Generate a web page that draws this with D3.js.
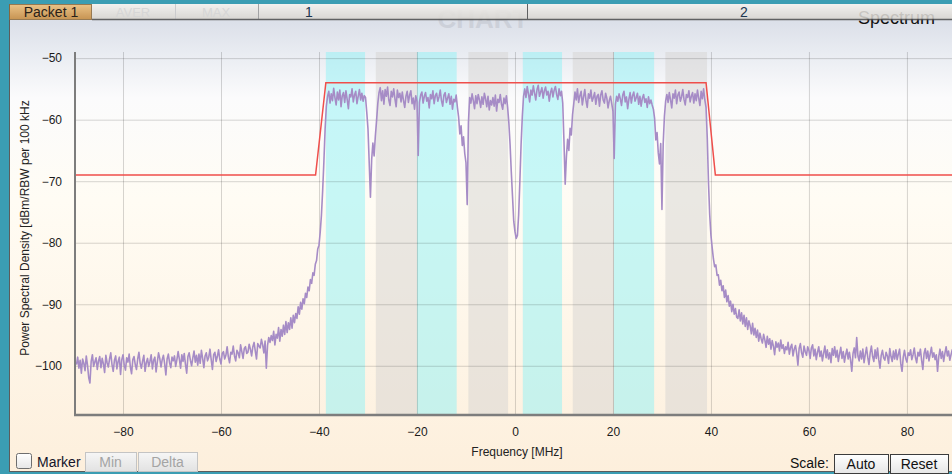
<!DOCTYPE html>
<html>
<head>
<meta charset="utf-8">
<script src="https://cdn.jsdelivr.net/npm/d3@7"></script>
<style>
  html, body { margin: 0; padding: 0; background: #3b9db3; }
  svg { display: block; font-family: "Liberation Sans", Arial, sans-serif; }
</style>
</head>
<body>
<div id="chart"></div>
<script>
const width = 952;
const height = 474;
const margin = { top: 52, right: 0, bottom: 59, left: 75 };

// spectrum trace, one sample every 0.25 MHz starting at -89.5 MHz
const freqStart = -89.5;
const freqStep = 0.25;
const psd = [
  -99.8,-98.6,-100.4,-99.1,-101.2,-98.9,-99.6,-100.8,-98.4,-99.9,-101.9,-102.8,-99.3,-98.2,-100.1,-99.4,-98.7,-100.6,-99.2,-98.5,
  -100.3,-98.8,-99.7,-101.1,-98.3,-99.5,-100.2,-98.9,-97.9,-99.8,-100.9,-99.1,-98.4,-100.5,-99.3,-98.6,-101.4,-99.0,-98.2,-99.9,
  -100.7,-98.7,-99.4,-98.1,-100.2,-101.3,-99.0,-98.5,-99.8,-100.6,-98.9,-97.8,-99.6,-100.4,-99.2,-98.3,-100.9,-99.5,-98.8,-100.1,
  -99.3,-98.2,-100.5,-99.1,-98.6,-101.0,-99.4,-97.9,-98.8,-100.2,-99.0,-98.3,-99.7,-101.5,-98.9,-98.1,-99.5,-100.3,-98.6,-99.2,
  -98.4,-100.1,-99.0,-97.7,-98.9,-100.4,-98.2,-99.3,-98.0,-99.8,-101.2,-98.5,-97.9,-99.1,-100.0,-98.7,-97.6,-99.4,-98.3,-99.9,
  -98.1,-99.6,-97.5,-98.8,-100.3,-98.4,-97.9,-99.2,-98.6,-97.3,-99.0,-100.6,-98.2,-97.8,-99.3,-98.5,-97.4,-98.9,-99.7,-98.0,
  -97.7,-98.9,-98.3,-96.9,-98.6,-99.5,-97.8,-98.1,-96.8,-98.4,-99.2,-97.5,-97.9,-98.7,-96.6,-97.7,-98.8,-97.2,-96.9,-98.0,
  -97.8,-96.5,-97.3,-98.4,-96.9,-96.2,-97.6,-98.9,-96.4,-96.8,-97.1,-95.7,-96.6,-97.9,-96.0,-100.4,-96.7,-95.4,-96.2,-95.1,
  -95.9,-94.4,-96.6,-94.9,-95.5,-93.8,-96.0,-94.1,-95.2,-93.4,-94.9,-92.8,-94.6,-93.0,-94.1,-92.2,-93.9,-91.8,-93.0,-91.5,
  -92.3,-90.4,-91.6,-89.7,-90.8,-89.1,-89.9,-88.2,-88.9,-87.2,-87.8,-86.0,-86.6,-84.9,-85.3,-83.5,-82.9,-81.0,-80.4,-78.3,
  -75.5,-71.5,-66.8,-61.5,-57.8,-56.2,-55.4,-57.3,-55.8,-56.9,-54.9,-56.4,-57.6,-55.5,-56.8,-55.2,-57.9,-56.1,-55.6,-57.2,
  -55.3,-56.7,-58.2,-55.9,-56.3,-55.0,-57.1,-56.0,-55.4,-57.4,-56.2,-55.1,-56.8,-55.7,-57.0,-56.1,-56.4,-58.8,-61.5,-67.0,
  -72.6,-66.5,-63.8,-65.9,-62.7,-60.2,-57.4,-55.6,-54.8,-56.9,-55.3,-57.5,-55.1,-56.2,-54.7,-56.8,-57.7,-55.4,-56.3,-55.0,
  -56.6,-57.9,-55.2,-56.4,-55.7,-57.1,-55.5,-56.9,-58.0,-56.2,-55.4,-57.2,-56.0,-55.3,-57.4,-56.5,-58.3,-56.1,-57.0,-65.8,
  -57.2,-56.0,-55.5,-57.3,-56.2,-55.6,-57.0,-56.4,-58.1,-55.9,-56.6,-55.3,-57.4,-56.1,-55.7,-57.0,-56.3,-55.2,-56.9,-57.8,
  -56.0,-55.6,-57.2,-56.5,-55.8,-57.5,-56.2,-58.3,-56.7,-57.1,-56.0,-58.0,-59.6,-62.3,-61.0,-64.2,-62.8,-65.5,-67.0,-73.8,
  -60.5,-56.4,-57.3,-55.8,-56.9,-58.2,-56.1,-57.4,-55.9,-56.8,-58.0,-56.3,-57.5,-55.7,-56.6,-57.9,-56.2,-58.4,-56.9,-57.6,
  -56.4,-57.8,-56.0,-58.6,-56.7,-57.2,-55.9,-57.5,-58.3,-56.5,-57.4,-56.1,-58.0,-60.5,-64.0,-68.5,-72.5,-76.5,-78.2,-79.3,
  -78.8,-75.5,-70.0,-64.0,-59.5,-56.2,-55.0,-56.4,-54.6,-55.8,-57.1,-55.2,-56.0,-54.5,-55.7,-56.8,-55.1,-54.4,-56.2,-55.5,
  -54.8,-56.5,-55.3,-54.7,-56.0,-55.4,-57.0,-55.6,-54.9,-56.3,-55.2,-54.6,-55.9,-56.7,-55.0,-56.1,-55.4,-57.3,-63.5,-70.5,
  -66.0,-63.2,-65.0,-61.4,-62.5,-59.2,-57.4,-55.5,-56.8,-55.0,-57.2,-56.1,-55.4,-57.6,-56.3,-55.1,-56.9,-58.0,-55.8,-56.5,
  -55.2,-57.0,-56.4,-55.6,-57.5,-56.2,-55.9,-57.8,-56.0,-55.3,-56.8,-57.3,-55.7,-56.5,-58.1,-56.9,-56.2,-57.4,-58.6,-66.3,
  -57.5,-56.2,-57.0,-55.8,-56.6,-57.7,-56.0,-55.4,-57.1,-56.3,-58.2,-56.7,-55.6,-57.3,-56.1,-55.5,-57.0,-56.4,-55.7,-57.5,
  -56.2,-57.8,-56.5,-55.9,-57.2,-56.6,-58.0,-56.3,-57.4,-56.8,-57.6,-58.3,-59.8,-63.3,-62.1,-65.4,-67.2,-63.9,-74.6,-64.0,
  -59.5,-57.0,-55.9,-57.2,-55.6,-56.8,-58.1,-55.8,-56.5,-55.2,-57.4,-56.0,-55.5,-57.0,-56.3,-55.1,-56.7,-57.6,-55.9,-56.4,
  -55.3,-57.1,-56.2,-55.6,-57.3,-55.8,-56.9,-55.2,-56.5,-57.7,-55.4,-56.6,-55.0,-56.8,-58.0,-63.0,-70.3,-75.5,-78.8,-80.8,
  -82.6,-83.9,-83.6,-85.3,-85.2,-86.9,-86.1,-87.8,-87.0,-88.9,-87.7,-89.6,-88.6,-90.3,-89.5,-91.2,-90.0,-91.6,-90.7,-92.1,
  -92.3,-90.9,-92.7,-91.4,-93.2,-91.8,-93.6,-92.2,-94.1,-92.7,-93.5,-94.8,-93.1,-95.0,-93.9,-95.4,-94.2,-96.0,-94.7,-95.6,
  -96.3,-94.9,-95.8,-97.0,-95.2,-96.5,-95.6,-97.3,-95.9,-96.8,-98.2,-96.1,-97.0,-96.3,-97.6,-95.8,-97.2,-96.6,-98.0,-96.9,
  -97.4,-96.2,-98.1,-97.0,-96.5,-98.4,-97.3,-96.7,-98.0,-99.9,-97.2,-96.4,-97.9,-98.6,-96.8,-97.7,-98.3,-96.9,-97.5,-98.8,
  -97.1,-96.6,-98.4,-97.3,-99.0,-97.8,-96.9,-98.5,-97.6,-99.2,-98.0,-96.8,-98.7,-97.4,-98.9,-97.9,-99.5,-97.2,-98.3,-96.9,
  -98.6,-97.5,-99.3,-98.1,-97.0,-98.8,-97.7,-99.4,-98.2,-97.3,-98.9,-97.8,-99.1,-100.9,-98.0,-97.1,-98.7,-95.4,-98.4,-99.2,
  -97.6,-98.9,-97.3,-99.5,-98.2,-97.0,-98.6,-99.8,-97.9,-96.8,-98.5,-99.3,-97.4,-98.8,-97.1,-99.0,-100.4,-98.3,-97.5,-98.7,
  -99.1,-97.8,-98.4,-99.6,-97.2,-98.5,-99.3,-97.6,-98.9,-97.4,-99.0,-98.1,-97.3,-99.7,-100.9,-98.6,-97.5,-98.8,-99.4,-97.9,
  -98.3,-97.4,-99.0,-98.2,-97.1,-98.7,-99.5,-97.8,-98.4,-97.3,-99.1,-100.6,-98.0,-97.2,-98.8,-97.6,-99.2,-98.1,-97.0,-98.6,
  -97.9,-99.0,-98.2,-100.9,-98.5,-97.3,-98.8,-97.7,-99.3,-98.0,-96.9,-98.4,-97.6,-99.1,-98.2,-97.4,-98.6
];

// spectral mask (red)
const maskFreq = [-89.8, -40.7, -38.6, 39.0, 40.9, 89.2];
const maskLevel = [-69, -69, -54, -54, -69, -69];

// shaded sub-channel bands
const bandLo = [-38.6, -28.4, -20.0, -9.5, 1.6, 11.8, 20.2, 30.7];
const bandHi = [-30.6, -20.0, -11.9, -1.4, 9.6, 20.2, 28.4, 39.2];
const bandKind = ["cyan", "grey", "cyan", "grey", "cyan", "grey", "cyan", "grey"];

const xTicks = [-80, -60, -40, -20, 0, 20, 40, 60, 80];
const yTicks = [-50, -60, -70, -80, -90, -100];

const svg = d3.select("#chart")
  .append("svg")
  .attr("width", width)
  .attr("height", height);

const defs = svg.append("defs");

function vGrad(id, stops) {
  const g = defs.append("linearGradient").attr("id", id)
    .attr("x1", 0).attr("y1", 0).attr("x2", 0).attr("y2", 1);
  stops.forEach(s => g.append("stop").attr("offset", s[0]).attr("stop-color", s[1]));
}
vGrad("panelBg", [[0, "#d4d9e4"], [0.1, "#e8ebf1"], [0.2, "#fbfbfc"], [0.42, "#fffcf4"], [1, "#fdefdc"]]);
vGrad("tabBar", [[0, "#f7f5f1"], [1, "#d7d4ce"]]);
vGrad("tabActive", [[0, "#efbf78"], [1, "#c4883a"]]);
vGrad("btnGrey", [[0, "#f6f6f6"], [1, "#e2e2e2"]]);
vGrad("btnWhite", [[0, "#ffffff"], [1, "#e6e6e6"]]);

const plotW = width - margin.left - margin.right;
const plotH = height - margin.top - margin.bottom;

defs.append("clipPath").attr("id", "plotClip")
  .append("rect")
  .attr("x", margin.left).attr("y", margin.top)
  .attr("width", plotW).attr("height", plotH);

// scales
const x = d3.scaleLinear()
  .domain([-89.8, 89.2])
  .range([margin.left, width - margin.right]);

const y = d3.scaleLinear()
  .domain([-108, -49])
  .range([height - margin.bottom, margin.top]);

// window frame
svg.append("rect")
  .attr("x", 0).attr("y", 0).attr("width", width).attr("height", height)
  .attr("fill", "#3b9db3");
svg.append("rect")
  .attr("x", 9).attr("y", 4).attr("width", width - 9).attr("height", 468)
  .attr("fill", "url(#panelBg)");
svg.append("line")
  .attr("x1", 9.5).attr("x2", 9.5).attr("y1", 4).attr("y2", 472)
  .attr("stroke", "#5c5c5c");
svg.append("line")
  .attr("x1", 9).attr("x2", width).attr("y1", 471.5).attr("y2", 471.5)
  .attr("stroke", "#5c5c5c");

// faint watermark and panel title, partly under the tab bar
svg.append("text")
  .attr("x", 483).attr("y", 28)
  .attr("text-anchor", "middle")
  .style("font-size", "26px")
  .style("font-weight", "bold")
  .attr("fill", "#ccd0d9")
  .text("CHART");

svg.append("text")
  .attr("x", 858).attr("y", 24)
  .style("font-size", "18px")
  .attr("fill", "#111")
  .text("Spectrum");

// tab bar
const bar = svg.append("g").attr("opacity", 0.86);
bar.append("rect")
  .attr("x", 9).attr("y", 4).attr("width", width - 9).attr("height", 16)
  .attr("fill", "url(#tabBar)");
bar.append("rect")
  .attr("x", 9.5).attr("y", 4.5).attr("width", 82).attr("height", 15)
  .attr("fill", "url(#tabActive)")
  .attr("stroke", "#8d6a3a");
[[175, "#c9c9c9"], [258, "#9a9a9a"], [527, "#4d4d4d"]].forEach(s => {
  bar.append("line")
    .attr("x1", s[0] + 0.5).attr("x2", s[0] + 0.5).attr("y1", 4).attr("y2", 20)
    .attr("stroke", s[1]);
});
bar.append("line")
  .attr("x1", 92).attr("x2", width).attr("y1", 19.5).attr("y2", 19.5)
  .attr("stroke", "#4d4d4d").attr("stroke-width", 1.5);

const tabText = [
  { t: "Packet 1", cx: 51, c: "#2a2118", s: 14 },
  { t: "AVER", cx: 133, c: "#d6d6d6", s: 13 },
  { t: "MAX", cx: 216, c: "#d6d6d6", s: 13 },
  { t: "1", cx: 309, c: "#1c3650", s: 14 },
  { t: "2", cx: 744, c: "#1c3650", s: 14 }
];
svg.append("g").selectAll("text")
  .data(tabText)
  .join("text")
  .attr("x", d => d.cx).attr("y", 17)
  .attr("text-anchor", "middle")
  .style("font-size", d => d.s + "px")
  .attr("fill", d => d.c)
  .text(d => d.t);

// shaded bands
svg.append("g")
  .selectAll("rect")
  .data(d3.range(bandLo.length))
  .join("rect")
  .attr("x", i => x(bandLo[i]))
  .attr("y", margin.top)
  .attr("width", i => x(bandHi[i]) - x(bandLo[i]))
  .attr("height", plotH)
  .attr("fill", i => bandKind[i] === "cyan" ? "#8ff1f6" : "#d6d4d2")
  .attr("fill-opacity", 0.5);

// grid
svg.append("g")
  .attr("transform", `translate(0,${height - margin.bottom})`)
  .call(d3.axisBottom(x).tickValues(xTicks).tickSize(-plotH).tickFormat(""))
  .call(g => g.select(".domain").remove())
  .selectAll("line")
  .attr("stroke", "#000").attr("stroke-opacity", 0.16);

svg.append("g")
  .attr("transform", `translate(${margin.left},0)`)
  .call(d3.axisLeft(y).tickValues(yTicks).tickSize(-plotW).tickFormat(""))
  .call(g => g.select(".domain").remove())
  .selectAll("line")
  .attr("stroke", "#000").attr("stroke-opacity", 0.16);

// spectrum trace
const trace = d3.line()
  .x((d, i) => x(freqStart + i * freqStep))
  .y(d => y(d));

svg.append("path")
  .datum(psd)
  .attr("clip-path", "url(#plotClip)")
  .attr("fill", "none")
  .attr("stroke", "#a68cc6")
  .attr("stroke-width", 1.6)
  .attr("stroke-linejoin", "round")
  .attr("d", trace);

// mask
const maskLine = d3.line()
  .x(i => x(maskFreq[i]))
  .y(i => y(maskLevel[i]));

svg.append("path")
  .datum(d3.range(maskFreq.length))
  .attr("clip-path", "url(#plotClip)")
  .attr("fill", "none")
  .attr("stroke", "#ef4e4b")
  .attr("stroke-width", 1.5)
  .attr("d", maskLine);

// axis lines
svg.append("line")
  .attr("x1", margin.left).attr("x2", margin.left)
  .attr("y1", margin.top).attr("y2", height - margin.bottom + 1)
  .attr("stroke", "#7d7d7d").attr("stroke-width", 2);
svg.append("line")
  .attr("x1", margin.left - 1).attr("x2", width)
  .attr("y1", height - margin.bottom).attr("y2", height - margin.bottom)
  .attr("stroke", "#7d7d7d").attr("stroke-width", 2.5);

// tick labels
svg.append("g")
  .attr("transform", `translate(0,${height - margin.bottom})`)
  .call(d3.axisBottom(x).tickValues(xTicks).tickSize(0).tickPadding(12))
  .call(g => g.select(".domain").remove())
  .selectAll("text")
  .style("font-size", "12px")
  .style("font-family", "'Liberation Sans', Arial, sans-serif")
  .attr("fill", "#1a1a1a");

svg.append("g")
  .attr("transform", `translate(${margin.left},0)`)
  .call(d3.axisLeft(y).tickValues(yTicks).tickSize(0).tickPadding(13))
  .call(g => g.select(".domain").remove())
  .selectAll("text")
  .style("font-size", "12px")
  .style("font-family", "'Liberation Sans', Arial, sans-serif")
  .attr("fill", "#1a1a1a");

// axis titles
svg.append("text")
  .attr("x", 517).attr("y", 456)
  .attr("text-anchor", "middle")
  .style("font-size", "12px")
  .attr("fill", "#222")
  .text("Frequency [MHz]");

svg.append("text")
  .attr("transform", "translate(29,228) rotate(-90)")
  .attr("text-anchor", "middle")
  .style("font-size", "12px")
  .attr("fill", "#222")
  .text("Power Spectral Density [dBm/RBW per 100 kHz");

// bottom controls
svg.append("rect")
  .attr("x", 16.5).attr("y", 453.5).attr("width", 15).attr("height", 15).attr("rx", 2)
  .attr("fill", "url(#btnWhite)").attr("stroke", "#6e6e6e");
svg.append("text")
  .attr("x", 37).attr("y", 467)
  .style("font-size", "14px").attr("fill", "#14142a")
  .text("Marker");

const buttons = [
  { t: "Min", x0: 85, w: 51, y0: 452, fill: "url(#btnGrey)", stroke: "#c4c4c4", c: "#a4a4a4" },
  { t: "Delta", x0: 138, w: 59, y0: 452, fill: "url(#btnGrey)", stroke: "#c4c4c4", c: "#a4a4a4" },
  { t: "Auto", x0: 834, w: 54, y0: 454, fill: "url(#btnWhite)", stroke: "#3c3c3c", c: "#111" },
  { t: "Reset", x0: 890, w: 58, y0: 454, fill: "url(#btnWhite)", stroke: "#3c3c3c", c: "#111" }
];
const btn = svg.append("g").selectAll("g")
  .data(buttons)
  .join("g");
btn.append("rect")
  .attr("x", d => d.x0 + 0.5).attr("y", d => d.y0 + 0.5)
  .attr("width", d => d.w).attr("height", 19)
  .attr("fill", d => d.fill).attr("stroke", d => d.stroke);
btn.append("text")
  .attr("x", d => d.x0 + d.w / 2).attr("y", d => d.y0 + 15)
  .attr("text-anchor", "middle")
  .style("font-size", "14px")
  .attr("fill", d => d.c)
  .text(d => d.t);

svg.append("text")
  .attr("x", 790).attr("y", 468)
  .style("font-size", "14px").attr("fill", "#111")
  .text("Scale:");
</script>
</body>
</html>
